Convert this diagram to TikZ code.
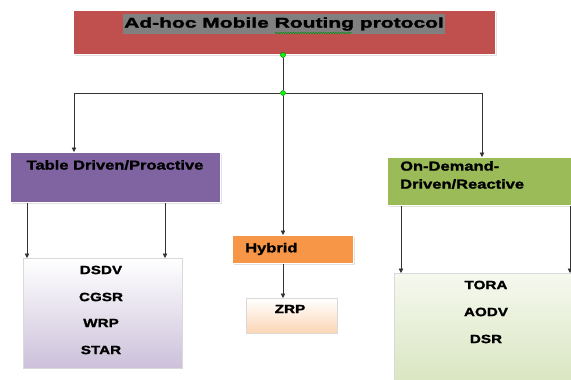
\documentclass[tikz,border=0pt]{standalone}
\usepackage{fontspec}
\setmainfont{Liberation Sans}
\newfontfamily\ttlfont[FakeStretch=1.5,FakeBold=2]{Liberation Sans Bold}
\newfontfamily\boxfont[FakeStretch=1.27,FakeBold=1.6]{Liberation Sans Bold}
\usetikzlibrary{arrows.meta,shadows,decorations.pathmorphing}

\definecolor{topred}{RGB}{192,80,77}
\definecolor{tblpurple}{RGB}{128,100,162}
\definecolor{hyborange}{RGB}{247,150,70}
\definecolor{demgreen}{RGB}{155,187,89}

\tikzset{
    head/.style={rectangle,draw=white,line width=1.2pt,anchor=north west,inner sep=0,
        drop shadow={shadow xshift=1.2pt,shadow yshift=-1.2pt,fill=gray!45}},
    list/.style={rectangle,draw=gray!30,line width=0.6pt,anchor=north west,inner sep=0,
        drop shadow={shadow xshift=1pt,shadow yshift=-1pt,fill=gray!35}},
    hd/.style={font=\boxfont\fontsize{13}{18}\selectfont,inner sep=0},
    itm/.style={font=\boxfont\fontsize{12}{14}\selectfont,inner sep=0},
    arr/.style={-{Triangle[width=4.5pt,length=4.5pt]},line width=0.7pt,black!80},
    dot/.style={circle,fill=green,draw=green!40!black,line width=0.4pt,inner sep=0,minimum size=5pt}
    }

\begin{document}
\begin{tikzpicture}[x=1pt,y=-1pt]
    \useasboundingbox (0,0) rectangle (571,380);
    \clip (0,0) rectangle (571,380);
    % The root
    \node (proto)[head,fill=topred,minimum width=422,minimum height=44] at (73,10) {};
    \node (ttl)[fill=gray!100,inner xsep=1pt,inner ysep=3pt,font=\ttlfont\fontsize{14}{16}\selectfont] at (284,24) {Ad-hoc Mobile Routing protocol};
    \draw[green!55!black,line width=0.4pt,decorate,decoration={snake,amplitude=0.8pt,segment length=2.5pt}] (275,33) -- (352,33);
    \node (d1)[dot] at (283,55) {};
    \node (d2)[dot] at (283,93) {};

    % The three kinds
    \node (tbl)[head,fill=tblpurple,minimum width=210,minimum height=50] at (10,152) {};
    \node (tbltxt)[hd] at (115,165) {Table Driven/Proactive};
    \node (hyb)[head,fill=hyborange,minimum width=121,minimum height=28] at (232,235) {};
    \node (hybtxt)[hd,anchor=west] at (245,249) {Hybrid};
    \node (dem)[head,fill=demgreen,minimum width=210,minimum height=48] at (387,157) {};
    \node (demtxt)[hd,anchor=north west,align=left] at (400,161) {On-Demand-\\Driven/Reactive};

    % The protocols
    \node (tlist)[list,top color=white,bottom color=tblpurple!40,minimum width=159,minimum height=110] at (23,258) {};
    \node (dsdv)[itm] at (101,270) {DSDV};
    \node (cgsr)[itm] at (101,297) {CGSR};
    \node (wrp)[itm] at (101,323) {WRP};
    \node (star)[itm] at (101,350) {STAR};
    \node (zlist)[list,top color=white,bottom color=hyborange!40,minimum width=91,minimum height=35] at (246,298) {};
    \node (zrp)[itm] at (290,309) {ZRP};
    \node (dlist)[list,top color=demgreen!10,bottom color=demgreen!40,minimum width=210,minimum height=120] at (394,273) {};
    \node (tora)[itm] at (486,285) {TORA};
    \node (aodv)[itm] at (486,312) {AODV};
    \node (dsr)[itm] at (486,339) {DSR};

    % Connectors
    \draw[line width=0.7pt,black!80] (d1) -- (d2);
    \draw[arr] (d2) -| ([xshift=64]tbl.north west);
    \draw[arr] (d2) -| ([xshift=95]dem.north west);
    \draw[arr] (d2) -- (hyb.north -| d2);
    \draw[arr] ([xshift=17]tbl.south west) -- ([xshift=4]tlist.north west);
    \draw[arr] ([xshift=155]tbl.south west) -- ([xshift=142]tlist.north west);
    \draw[arr] (hyb.south -| d2) -- (zlist.north -| d2);
    \draw[arr] ([xshift=14]dem.south west) -- ([xshift=7]dlist.north west);
    \draw[arr] ([xshift=183]dem.south west) -- ([xshift=176]dlist.north west);
\end{tikzpicture}
\end{document}
